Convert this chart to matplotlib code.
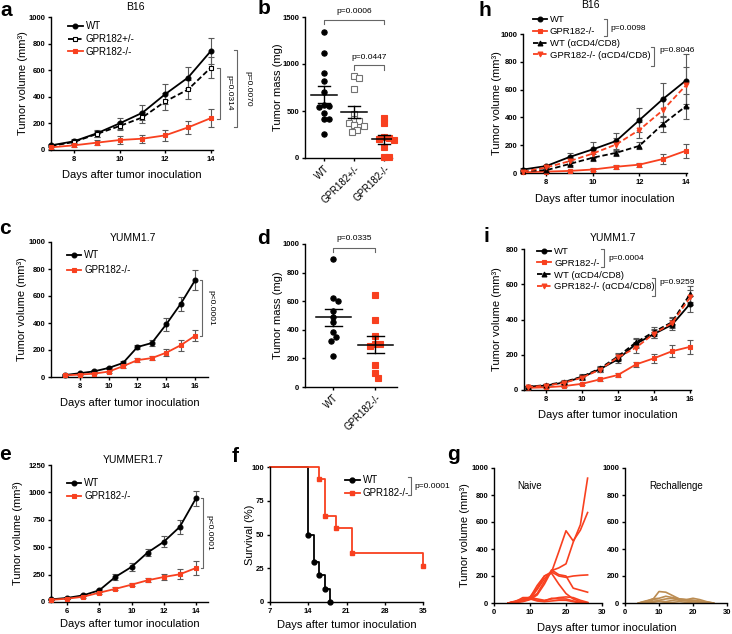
import matplotlib
matplotlib.use('Agg')
import numpy as np
import matplotlib.pyplot as plt
from matplotlib.lines import Line2D

plt.rcParams['font.family'] = ['Liberation Sans', 'DejaVu Sans']
plt.rcParams['axes.linewidth'] = 1.0
plt.rcParams['xtick.major.width'] = 1.0
plt.rcParams['ytick.major.width'] = 1.0
plt.rcParams['xtick.major.size'] = 2.5
plt.rcParams['ytick.major.size'] = 2.5
plt.rcParams['xtick.major.pad'] = 1.5
plt.rcParams['ytick.major.pad'] = 1.5
plt.rcParams['xtick.labelsize'] = 5.5
plt.rcParams['ytick.labelsize'] = 5.5

W, H = 732, 634
RED = '#f8401f'
TAN = '#bb8c52'
ERR = '0.35'
DASH = (0, (3, 1.5))
XLAB = 'Days after tumor inoculation'
YLAB = 'Tumor volume (mm³)'

# a: B16
days_a = [7, 8, 9, 10, 11, 12, 13, 14]
wt_a = [35, 65, 125, 200, 280, 420, 545, 745]
wt_a_err = [10, 15, 25, 40, 55, 75, 80, 95]
het_a = [30, 60, 120, 180, 245, 365, 455, 620]
het_a_err = [10, 15, 25, 30, 40, 65, 70, 80]
ko_a = [20, 35, 55, 75, 85, 110, 170, 240]
ko_a_err = [10, 10, 20, 30, 30, 40, 50, 70]

# b: B16 tumor mass
groups_b = ['WT', 'GPR182+/-', 'GPR182-/-']
wt_b = [1340, 1115, 900, 820, 700, 560, 550, 545, 480, 420, 410, 260]
het_b = [870, 855, 730, 470, 410, 390, 370, 350, 345, 300, 275]
ko_b = [430, 375, 225, 215, 205, 190, 115, 15, 10]

# h: B16 with depletion
days_h = [7, 8, 9, 10, 11, 12, 13, 14]
wt_h = [25, 50, 115, 170, 230, 380, 530, 665]
wt_h_err = [10, 10, 30, 55, 60, 85, 120, 190]
ko_h = [5, 10, 15, 25, 45, 60, 100, 160]
ko_h_err = [5, 5, 10, 10, 15, 15, 35, 50]
wtd_h = [15, 20, 65, 110, 145, 195, 350, 480]
wtd_h_err = [5, 10, 20, 25, 20, 25, 55, 90]
kod_h = [10, 40, 85, 140, 205, 310, 450, 630]
kod_h_err = [5, 10, 25, 35, 50, 60, 80, 130]

# c: YUMM1.7
days_c = [7, 8, 9, 10, 11, 12, 13, 14, 15, 16]
wt_c = [15, 28, 42, 67, 104, 222, 252, 390, 541, 716]
wt_c_err = [5, 5, 8, 10, 15, 15, 20, 50, 55, 75]
ko_c = [12, 18, 25, 40, 80, 125, 140, 180, 235, 305]
ko_c_err = [5, 5, 5, 8, 10, 15, 15, 25, 40, 40]

# d: YUMM1.7 tumor mass
groups_d = ['WT', 'GPR182-/-']
wt_d = [895, 620, 602, 532, 492, 452, 382, 351, 323, 218]
ko_d = [644, 468, 356, 300, 298, 288, 152, 100, 66]

# i: YUMM1.7 with depletion
days_i = [7, 8, 9, 10, 11, 12, 13, 14, 15, 16]
wt_i = [19, 25, 42, 72, 118, 174, 262, 318, 370, 489]
wt_i_err = [5, 8, 10, 15, 15, 20, 25, 25, 30, 45]
ko_i = [12, 15, 22, 35, 60, 85, 145, 180, 220, 245]
ko_i_err = [5, 5, 5, 5, 8, 10, 15, 25, 35, 40]
wtd_i = [18, 28, 45, 75, 122, 190, 270, 330, 385, 545]
wtd_i_err = [5, 8, 10, 15, 15, 20, 25, 25, 30, 45]
kod_i = [16, 25, 40, 70, 115, 185, 240, 320, 380, 525]
kod_i_err = [5, 8, 10, 15, 15, 20, 30, 25, 30, 45]

# e: YUMMER1.7
days_e = [5, 6, 7, 8, 9, 10, 11, 12, 13, 14]
wt_e = [24, 37, 61, 107, 229, 320, 451, 549, 686, 945]
wt_e_err = [5, 8, 10, 15, 25, 35, 35, 50, 65, 70]
ko_e = [20, 30, 48, 85, 120, 158, 198, 228, 253, 310]
ko_e_err = [5, 5, 8, 10, 15, 15, 20, 30, 45, 65]

# f: survival
t_wt_f = [7, 14, 15, 16, 17, 18]
s_wt_f = [100, 50, 30, 20, 10, 0]
t_ko_f = [7, 16, 17, 19, 22, 35]
s_ko_f = [100, 91, 64, 55, 36, 27]

# g: individual growth curves
days_g = [4, 6, 8, 10, 12, 14, 16, 18, 20, 22, 24, 26]
naive_g = [
    [0, 5, 10, 25, 60, 140, 240, 260, 290, 450, 580, 925],
    [0, 5, 15, 30, 100, 180, 230, 380, 535, 460, 540, 670],
    [0, 5, 20, 40, 130, 200, 230, 200, 190, 200, 205, 208],
    [0, 10, 25, 35, 70, 160, 245, 210, 200, 110, 95, 80],
    [0, 10, 40, 40, 30, 20, 30, 40, 45, 40, 20, 5],
    [0, 15, 30, 35, 20, 15, 35, 30, 30, 15, 5, 0],
    [0, 5, 15, 30, 15, 10, 15, 20, 20, 10, 0, 0],
    [0, 10, 20, 45, 110, 200, 220, 140, 70, 30, 10, 0],
]
rechal_g = [
    [0, 5, 20, 85, 80, 55, 30, 25, 20, 10, 5, 0],
    [0, 10, 30, 35, 50, 40, 30, 25, 35, 25, 10, 0],
    [0, 15, 25, 20, 30, 35, 20, 15, 10, 5, 0, 0],
    [0, 5, 10, 15, 10, 20, 25, 20, 20, 15, 5, 0],
    [0, 0, 5, 10, 5, 5, 10, 5, 0, 0, 0, 0],
]

fig = plt.figure(figsize=(7.32, 6.34), dpi=100)


def add_ax(l, t, r, b):
    ax = fig.add_axes([l / W, 1 - b / H, (r - l) / W, (b - t) / H])
    ax.spines[['top', 'right']].set_visible(False)
    ax.px = (l, t, r, b)
    return ax


def xlab(ax, ypx, text=XLAB):
    l, t, r, b = ax.px
    ax.set_xlabel(text, fontsize=8)
    ax.xaxis.set_label_coords(0.5, -(ypx - 5 - b) / (b - t))


def ylab(ax, xpx, text=YLAB):
    l, t, r, b = ax.px
    ax.set_ylabel(text, fontsize=8)
    ax.yaxis.set_label_coords((xpx + 5 - l) / (r - l), 0.5)


def curve(ax, x, y, err, color, marker, ls='-', mfc=None, label=None):
    ax.errorbar(x, y, yerr=err, fmt='none', ecolor=ERR, elinewidth=0.8,
                capsize=2.5, capthick=0.8, zorder=2, clip_on=False)
    ax.plot(x, y, color=color, ls=ls, marker=marker, ms=3.5,
            mfc=mfc or color, mec=color, mew=0.8, lw=1.3, label=label,
            zorder=3, clip_on=False)


def legend(ax, xf, yf, sp=0.3, fs=7):
    ax.legend(loc='upper left', bbox_to_anchor=(xf, yf), frameon=False,
              fontsize=fs, borderpad=0, borderaxespad=0, handlelength=1.5,
              handletextpad=0.3, labelspacing=sp, numpoints=1)


def vbracket(ax, x, y0, y1, text, tx, dx):
    ax.plot([x - dx, x, x, x - dx], [y1, y1, y0, y0], color='0.4', lw=0.8,
            clip_on=False)
    ax.text(tx, (y0 + y1) / 2, text, rotation=270, va='center', ha='center',
            fontsize=6, clip_on=False)


def fig_bracket(x, y0, y1, text, tx, ty):
    fig.add_artist(Line2D([(x - 3) / W, x / W, x / W, (x - 3) / W],
                          [1 - y0 / H, 1 - y0 / H, 1 - y1 / H, 1 - y1 / H],
                          transform=fig.transFigure, color='0.4', lw=0.8))
    fig.text(tx / W, 1 - ty / H, text, fontsize=6, va='center')


def swarm(vals, ppu, cpx, d=5.0):
    placed = []
    offs = []
    for v in vals:
        y = v * ppu
        for k in [0, 1, -1, 2, -2, 3, -3, 4, -4, 5, -5]:
            x = k * d * 0.5
            if all((x - px) ** 2 + (y - py) ** 2 >= d * d for px, py in placed):
                break
        placed.append((x, y))
        offs.append(x / cpx)
    return np.array(offs)


def dots(ax, i, vals, ppu, cpx, marker, color, mfc):
    vs = sorted(vals, reverse=True)
    offs = swarm(vs, ppu, cpx)
    ax.plot(i + offs, vs, ls='none', marker=marker,
            ms=3.8, mfc=mfc, mec=color, mew=0.8, clip_on=False, zorder=3)
    m = np.mean(vals)
    s = np.std(vals, ddof=1) / np.sqrt(len(vals))
    ax.plot([i - 0.42, i + 0.42], [m, m], color='k', lw=1.1, zorder=4)
    ax.plot([i, i], [m - s, m + s], color='k', lw=1.0, zorder=4)
    for yy in (m - s, m + s):
        ax.plot([i - 0.2, i + 0.2], [yy, yy], color='k', lw=1.0, zorder=4)


def hbracket(ax, x0, x1, y, h, text, ty):
    ax.plot([x0, x0, x1, x1], [y - h, y, y, y - h], color='0.4', lw=0.8,
            clip_on=False)
    ax.text((x0 + x1) / 2, ty, text, ha='center', va='center', fontsize=6,
            clip_on=False)


# ---- a ----
ax = add_ax(51, 17, 213, 150)
curve(ax, days_a, wt_a, wt_a_err, 'k', 'o', label='WT')
curve(ax, days_a, het_a, het_a_err, 'k', 's', ls=DASH, mfc='white', label='GPR182+/-')
curve(ax, days_a, ko_a, ko_a_err, RED, 's', label='GPR182-/-')
ax.set_xlim(7, 14.09)
ax.set_ylim(0, 1000)
ax.set_xticks([8, 10, 12, 14])
ax.set_yticks(range(0, 1001, 200))
legend(ax, 0.105, 0.97)
vbracket(ax, 14.39, ko_a[-1] - 5, het_a[-1], 'p=0.0314', 14.8, 0.12)
vbracket(ax, 15.14, ko_a[-1] - 65, wt_a[-1] + 5, 'p=0.0070', 15.6, 0.12)
xlab(ax, 175)
ylab(ax, 23)
fig.text(135 / W, 1 - 7 / H, 'B16', ha='center', va='center', fontsize=7.5)

# ---- b ----
ax = add_ax(305, 17, 392, 158)
ppu, cpx = 141 / 1500, 30.5
dots(ax, 0, wt_b, ppu, cpx, 'o', 'k', 'k')
dots(ax, 1, het_b, ppu, cpx, 's', '0.45', 'white')
dots(ax, 2, ko_b, ppu, cpx, 's', RED, RED)
ax.set_xlim(-0.62, 2.25)
ax.set_ylim(0, 1500)
ax.set_yticks([0, 500, 1000, 1500])
ax.set_xticks([0, 1, 2])
ax.set_xticklabels(groups_b, rotation=45, ha='right', rotation_mode='anchor',
                   fontsize=7)
hbracket(ax, 0, 2, 1470, 45, 'p=0.0006', 1560)
hbracket(ax, 1, 2, 985, 45, 'p=0.0447', 1070)
ylab(ax, 278, 'Tumor mass (mg)')

# ---- h ----
ax = add_ax(523, 34, 687, 173)
curve(ax, days_h, wt_h, wt_h_err, 'k', 'o', label='WT')
curve(ax, days_h, ko_h, ko_h_err, RED, 's', label='GPR182-/-')
curve(ax, days_h, wtd_h, wtd_h_err, 'k', '^', ls=DASH, label='WT (αCD4/CD8)')
curve(ax, days_h, kod_h, kod_h_err, RED, 'v', ls=DASH, label='GPR182-/- (αCD4/CD8)')
ax.set_xlim(7, 14.05)
ax.set_ylim(0, 1000)
ax.set_xticks([8, 10, 12, 14])
ax.set_yticks(range(0, 1001, 200))
legend(ax, 0.06, 1.135, fs=6.8)
fig_bracket(607, 19, 36, 'p=0.0098', 610, 28)
fig_bracket(654, 47, 66, 'p=0.8046', 659, 51)
xlab(ax, 199)
ylab(ax, 497)
fig.text(590 / W, 1 - 5 / H, 'B16', ha='center', va='center', fontsize=7.5)

# ---- c ----
ax = add_ax(51, 242, 208, 377)
curve(ax, days_c, wt_c, wt_c_err, 'k', 'o', label='WT')
curve(ax, days_c, ko_c, ko_c_err, RED, 's', label='GPR182-/-')
ax.set_xlim(6, 16.9)
ax.set_ylim(0, 1000)
ax.set_xticks([8, 10, 12, 14, 16])
ax.set_yticks(range(0, 1001, 200))
legend(ax, 0.10, 0.94, sp=0.5)
vbracket(ax, 16.5, ko_c[-1], wt_c[-1], 'p<0.0001', 17.1, 0.15)
xlab(ax, 403)
ylab(ax, 22)
fig.text(133 / W, 1 - 238 / H, 'YUMM1.7', ha='center', va='center', fontsize=7.5)

# ---- d ----
ax = add_ax(305, 244, 397, 387)
ppu, cpx = 143 / 1000, 42
dots(ax, 0, wt_d, ppu, cpx, 'o', 'k', 'k')
dots(ax, 1, ko_d, ppu, cpx, 's', RED, RED)
ax.set_xlim(-0.67, 1.52)
ax.set_ylim(0, 1000)
ax.set_yticks(range(0, 1001, 200))
ax.set_xticks([0, 1])
ax.set_xticklabels(groups_d, rotation=45, ha='right', rotation_mode='anchor',
                   fontsize=7)
hbracket(ax, 0, 1, 975, 30, 'p=0.0335', 1040)
ylab(ax, 278, 'Tumor mass (mg)')

# ---- i ----
ax = add_ax(524, 249, 691, 390)
curve(ax, days_i, wt_i, wt_i_err, 'k', 'o', label='WT')
curve(ax, days_i, ko_i, ko_i_err, RED, 's', label='GPR182-/-')
curve(ax, days_i, wtd_i, wtd_i_err, 'k', '^', ls=DASH, label='WT (αCD4/CD8)')
curve(ax, days_i, kod_i, kod_i_err, RED, 'v', ls=DASH, label='GPR182-/- (αCD4/CD8)')
ax.set_xlim(6.8, 16.05)
ax.set_ylim(0, 800)
ax.set_xticks([8, 10, 12, 14, 16])
ax.set_yticks(range(0, 801, 200))
legend(ax, 0.078, 1.015, fs=6.8)
fig_bracket(604, 249, 267, 'p=0.0004', 608, 258)
fig_bracket(655, 278, 296, 'p=0.9259', 659, 282)
xlab(ax, 415)
ylab(ax, 497)
fig.text(613 / W, 1 - 238 / H, 'YUMM1.7', ha='center', va='center', fontsize=7.5)

# ---- e ----
ax = add_ax(51, 465, 208, 602)
curve(ax, days_e, wt_e, wt_e_err, 'k', 'o', label='WT')
curve(ax, days_e, ko_e, ko_e_err, RED, 's', label='GPR182-/-')
ax.set_xlim(5, 14.75)
ax.set_ylim(0, 1250)
ax.set_xticks([6, 8, 10, 12, 14])
ax.set_yticks(range(0, 1251, 250))
legend(ax, 0.10, 0.905)
vbracket(ax, 14.43, ko_e[-1], wt_e[-1], 'p<0.0001', 14.8, 0.12)
xlab(ax, 624)
ylab(ax, 18)
fig.text(133 / W, 1 - 460 / H, 'YUMMER1.7', ha='center', va='center', fontsize=7.5)

# ---- f ----
ax = add_ax(270, 467, 423, 602)
ax.step(t_wt_f, s_wt_f, where='post', color='k', lw=1.3, clip_on=False)
ax.plot(t_wt_f[1:], s_wt_f[1:], ls='none', marker='o', ms=3.5, color='k', clip_on=False)
ax.step(t_ko_f, s_ko_f, where='post', color=RED, lw=1.3, clip_on=False)
ax.plot(t_ko_f[1:], s_ko_f[1:], ls='none', marker='s', ms=3.5, color=RED, clip_on=False)
ax.plot([], [], color='k', marker='o', ms=3.5, lw=1.3, label='WT')
ax.plot([], [], color=RED, marker='s', ms=3.5, lw=1.3, label='GPR182-/-')
ax.set_xlim(7, 35)
ax.set_ylim(0, 100)
ax.set_xticks([7, 14, 21, 28, 35])
ax.set_yticks([0, 25, 50, 75, 100])
legend(ax, 0.49, 0.94)
fig_bracket(411, 477, 495, 'p=0.0001', 414, 487)
xlab(ax, 625)
ylab(ax, 250, 'Survival (%)')

# ---- g ----
gl = add_ax(494, 468, 602, 603)
for ys in naive_g:
    gl.plot(days_g, ys, color=RED, lw=1.2)
gr = add_ax(625, 468, 727, 603)
for ys in rechal_g:
    gr.plot(days_g, ys, color=TAN, lw=1.2)
for a_, name in ((gl, 'Naive'), (gr, 'Rechallenge')):
    a_.set_xlim(0, 30)
    a_.set_ylim(0, 1000)
    a_.set_xticks([0, 10, 20, 30])
    a_.set_yticks(range(0, 1001, 200))
    a_.text(0.5 if a_ is gr else 0.33, 0.87, name, transform=a_.transAxes,
            ha='center', va='center', fontsize=7)
ylab(gl, 465)
fig.text(607 / W, 1 - 628 / H, XLAB, ha='center', va='center', fontsize=8)

# bold tick labels (Prism style), except category labels
for a_ in fig.axes:
    for lab in a_.get_yticklabels():
        lab.set_fontweight('bold')
    for lab in a_.get_xticklabels():
        if lab.get_rotation() == 0:
            lab.set_fontweight('bold')

# panel letters
for letter, (x, y) in {'a': (6, 10), 'b': (264, 9), 'h': (485, 10),
                       'c': (5, 228), 'd': (264, 238), 'i': (486, 236),
                       'e': (5, 454), 'f': (235, 456), 'g': (453, 455)}.items():
    fig.text(x / W, 1 - y / H, letter, fontsize=15, fontweight='bold',
             ha='center', va='center')

fig.savefig('out.png', dpi=100)
